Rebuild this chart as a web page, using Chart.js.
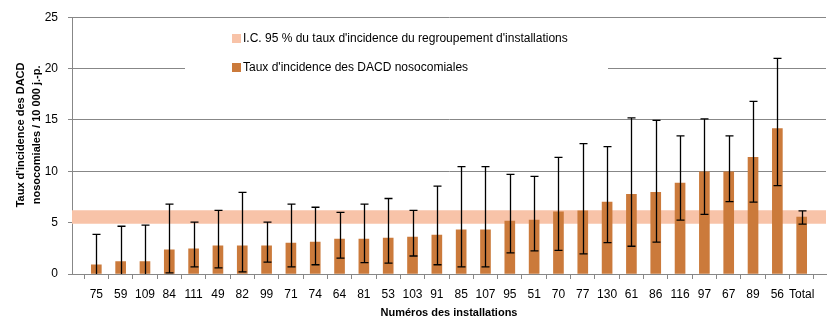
<!DOCTYPE html>
<html>
<head>
<meta charset="utf-8">
<script src="https://cdn.jsdelivr.net/npm/chart.js@4"></script>
<style>
  html, body { margin: 0; padding: 0; background: #fff; }
  #wrap { width: 838px; height: 328px; }
</style>
</head>
<body>
<div id="wrap"><canvas id="grafico"></canvas></div>
<script>
// Numéros des installations (ordre du graphique)
const installations = ['75', '59', '109', '84', '111', '49', '82', '99', '71', '74', '64', '81', '53', '103', '91',
    '85', '107', '95', '51', '70', '77', '130', '61', '86', '116', '97', '67', '89', '56', 'Total'];

// Taux d'incidence / 10 000 j.-p.
const taux = [0.9, 1.2, 1.2, 2.35, 2.45, 2.75, 2.75, 2.75, 3.0, 3.1, 3.4, 3.4, 3.5, 3.6, 3.8,
    4.3, 4.3, 5.15, 5.25, 6.05, 6.15, 7.0, 7.75, 7.95, 8.85, 9.95, 9.95, 11.35, 14.15, 5.55];

// Intervalles de confiance 95 % (bornes inf. et sup.)
const icInf = [0, 0, 0, 0.1, 0.7, 0.6, 0.2, 1.15, 0.7, 0.9, 1.55, 1.1, 1.05, 1.75, 0.9,
    0.7, 0.7, 2.05, 2.25, 2.3, 1.95, 3.05, 2.7, 3.1, 5.25, 5.8, 7.05, 7.0, 8.6, 4.85];
const icSup = [3.85, 4.65, 4.75, 6.8, 5.05, 6.2, 7.95, 5.05, 6.8, 6.5, 6.0, 6.8, 7.35, 6.2, 8.55,
    10.45, 10.45, 9.7, 9.5, 11.35, 12.7, 12.4, 15.2, 14.95, 13.45, 15.1, 13.45, 16.8, 21.0, 6.15];

// I.C. 95 % du regroupement
const bandeInf = 4.9;
const bandeSup = 6.2;

const yTicks = [0, 5, 10, 15, 20, 25];

const legendeTextes = [
    'I.C. 95 % du taux d\'incidence du regroupement d\'installations',
    'Taux d\'incidence des DACD nosocomiales'
];

const couleurBarre = '#CB7A3B';
const couleurBande = '#F8C3A8';
const couleurGrille = '#878787';
const police = '"Liberation Sans", Arial, sans-serif';

// axe avec une position vide de chaque côté
const etiquettes = ['', ...installations, ''];
const nbPos = etiquettes.length;

// Barres d'erreur
const barresErreur = {
    id: 'barresErreur',
    afterDatasetsDraw(chart) {
        const { ctx, scales: { x, y } } = chart;
        ctx.save();
        ctx.strokeStyle = '#000';
        ctx.lineWidth = 1.3;
        icInf.forEach((inf, i) => {
            const px = Math.round(x.getPixelForValue(i + 1)) + 0.5;
            const yb = y.getPixelForValue(inf);
            const yh = y.getPixelForValue(icSup[i]);
            ctx.beginPath();
            ctx.moveTo(px, yb);
            ctx.lineTo(px, yh);
            ctx.moveTo(px - 4, yh);
            ctx.lineTo(px + 4, yh);
            if (inf > 0) {
                ctx.moveTo(px - 4, yb);
                ctx.lineTo(px + 4, yb);
            }
            ctx.stroke();
        });
        ctx.restore();
    }
};

// Légende dans la zone du graphique
const legendeInterne = {
    id: 'legendeInterne',
    afterDraw(chart) {
        const { ctx } = chart;
        ctx.save();
        ctx.fillStyle = '#fff';
        ctx.fillRect(185, 24, 423, 66);
        const couleurs = [couleurBande, couleurBarre];
        const lignesY = [38, 67];
        ctx.font = '12px ' + police;
        ctx.textBaseline = 'middle';
        legendeTextes.forEach((t, i) => {
            ctx.fillStyle = couleurs[i];
            ctx.fillRect(232, lignesY[i] - 4, 9, 9);
            ctx.fillStyle = '#000';
            ctx.fillText(t, 243, lignesY[i] + 1);
        });
        ctx.restore();
    }
};

const ctx = document.getElementById('grafico').getContext('2d');
new Chart(ctx, {
    type: 'bar',
    data: {
        labels: etiquettes,
        datasets: [
            {
                type: 'bar',
                label: legendeTextes[1],
                data: [null, ...taux, null],
                backgroundColor: couleurBarre,
                barThickness: 10,
                order: 1
            },
            {
                type: 'line',
                label: 'sup',
                data: Array(nbPos).fill(bandeSup),
                borderWidth: 0,
                pointRadius: 0,
                fill: '+1',
                backgroundColor: couleurBande,
                order: 2
            },
            {
                type: 'line',
                label: 'inf',
                data: Array(nbPos).fill(bandeInf),
                borderWidth: 0,
                pointRadius: 0,
                fill: false,
                order: 2
            }
        ]
    },
    options: {
        responsive: true,
        maintainAspectRatio: false,
        animation: false,
        layout: { padding: { left: 0, right: 12, top: 16, bottom: 0 } },
        plugins: {
            legend: { display: false },
            tooltip: { enabled: false }
        },
        scales: {
            x: {
                offset: false,
                grid: { drawOnChartArea: false, drawTicks: true, tickLength: 5, color: couleurGrille },
                border: { color: couleurGrille },
                ticks: { color: '#000', font: { family: police, size: 12 }, autoSkip: false, maxRotation: 0, padding: 8 },
                title: {
                    display: true,
                    text: 'Numéros des installations',
                    color: '#000',
                    font: { family: police, size: 11, weight: 'bold' },
                    padding: { top: 6, bottom: 8 }
                },
                afterFit(scale) { scale.height = 54; }
            },
            y: {
                min: 0,
                max: 25,
                afterBuildTicks(scale) { scale.ticks = yTicks.map(v => ({ value: v })); },
                grid: { color: couleurGrille, tickLength: 4 },
                border: { color: couleurGrille },
                ticks: { color: '#000', font: { family: police, size: 12 }, padding: 10 },
                title: {
                    display: true,
                    // espaces en tête : texte centré un peu plus haut, comme l'original
                    text: ['       Taux d\'incidence des DACD', '       nosocomiales / 10 000 j.-p.'],
                    color: '#000',
                    font: { family: police, size: 11, weight: 'bold', lineHeight: 1.45 },
                    padding: { top: 13, bottom: 0 }
                },
                afterFit(scale) { scale.width = 72; }
            }
        }
    },
    plugins: [barresErreur, legendeInterne]
});
</script>
</body>
</html>
